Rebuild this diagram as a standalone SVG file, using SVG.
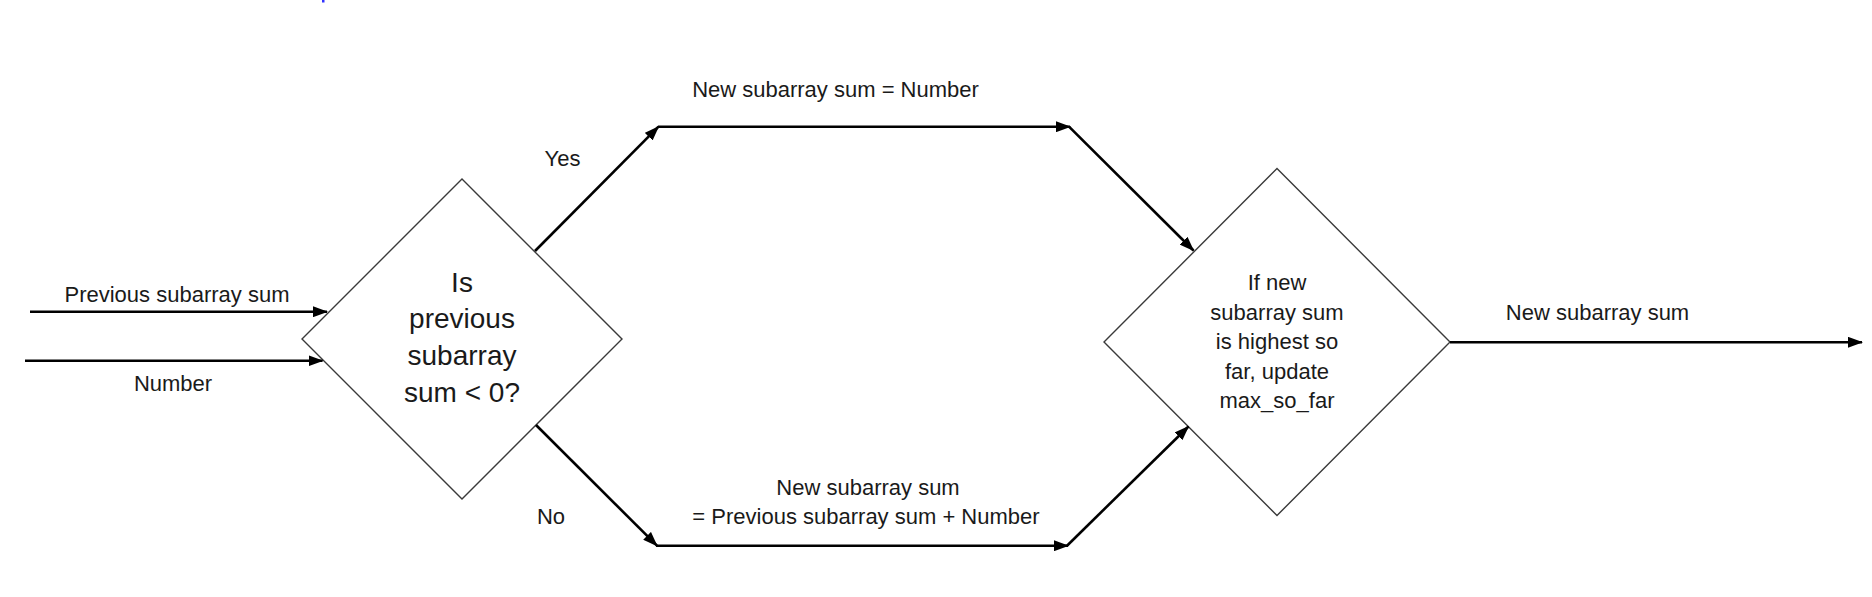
<svg xmlns="http://www.w3.org/2000/svg" width="1872" height="597" viewBox="0 0 1872 597">
<style>
  .bg { fill: #ffffff; }
  .shape { fill: #ffffff; stroke: #3a3a3a; stroke-width: 1.4; }
  .conn { fill: none; stroke: #000000; stroke-width: 2.6; }
  text { font-family: "Liberation Sans", Arial, sans-serif; fill: #1a1a1a; text-anchor: middle; }
  .lbl { font-size: 22px; }
  .big { font-size: 28px; }
  .mid { font-size: 22px; }
</style>
<defs>
  <marker id="arrow" markerUnits="userSpaceOnUse" markerWidth="15" markerHeight="11" refX="14" refY="5.5" orient="auto">
    <path d="M0,0 L15,5.5 L0,11 z" fill="#000000"/>
  </marker>
</defs>
<rect class="bg" x="0" y="0" width="1872" height="597"/>
<rect x="322" y="0" width="2.5" height="2.5" fill="#3333ff"/>

<g id="decision1">
  <polygon class="shape" points="462,179 622,339 462,499 302,339"/>
  <text class="big" x="462" y="291.5">Is</text>
  <text class="big" x="462" y="328">previous</text>
  <text class="big" x="462" y="365">subarray</text>
  <text class="big" x="462" y="401.5">sum &lt; 0?</text>
</g>

<g id="decision2">
  <polygon class="shape" points="1277,168.5 1450,342 1277,515.5 1104,342"/>
  <text class="mid" x="1277" y="290">If new</text>
  <text class="mid" x="1277" y="319.5">subarray sum</text>
  <text class="mid" x="1277" y="349">is highest so</text>
  <text class="mid" x="1277" y="378.5">far, update</text>
  <text class="mid" x="1277" y="407.5">max_so_far</text>
</g>

<g id="connectors">
  <line class="conn" x1="30" y1="311.7" x2="327" y2="311.7" marker-end="url(#arrow)"/>
  <line class="conn" x1="25" y1="360.7" x2="322.5" y2="360.7" marker-end="url(#arrow)"/>
  <line class="conn" x1="535" y1="251" x2="658.5" y2="126.7" marker-end="url(#arrow)"/>
  <line class="conn" x1="658" y1="126.7" x2="1070" y2="126.7" marker-end="url(#arrow)"/>
  <line class="conn" x1="1069" y1="126.7" x2="1193.5" y2="250.5" marker-end="url(#arrow)"/>
  <line class="conn" x1="536" y1="425" x2="657" y2="545.7" marker-end="url(#arrow)"/>
  <line class="conn" x1="656" y1="545.7" x2="1068" y2="545.7" marker-end="url(#arrow)"/>
  <line class="conn" x1="1067" y1="545.7" x2="1188.5" y2="426.5" marker-end="url(#arrow)"/>
  <line class="conn" x1="1450" y1="342.3" x2="1862" y2="342.3" marker-end="url(#arrow)"/>
</g>

<g id="labels">
  <text class="lbl" x="177" y="301.5">Previous subarray sum</text>
  <text class="lbl" x="173" y="391">Number</text>
  <text class="lbl" x="562.5" y="166">Yes</text>
  <text class="lbl" x="835.5" y="96.5">New subarray sum = Number</text>
  <text class="lbl" x="551" y="524">No</text>
  <text class="lbl" x="868" y="495">New subarray sum</text>
  <text class="lbl" x="866" y="524">= Previous subarray sum + Number</text>
  <text class="lbl" x="1597.5" y="319.5">New subarray sum</text>
</g>
</svg>
